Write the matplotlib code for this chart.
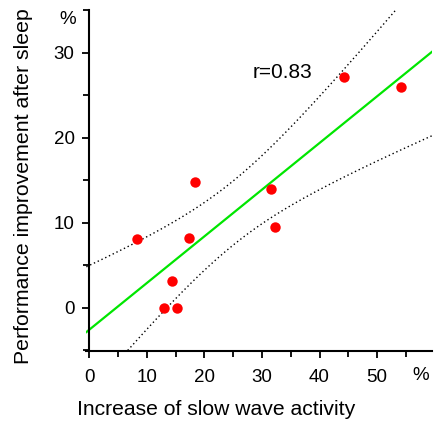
import numpy as np
import matplotlib
matplotlib.use("Agg")
import matplotlib.pyplot as plt

plt.rcParams['font.family'] = ['Liberation Sans', 'DejaVu Sans']

# slow wave activity increase (%) vs performance improvement (%)
swa_increase = [8.3, 12.9, 15.3, 14.3, 17.4, 18.4, 31.5, 32.3, 44.3, 54.1]
perf_improve = [8.1, 0.0, 0.0, 3.2, 8.2, 14.8, 14.0, 9.5, 27.2, 26.0]
x_ticks = [0, 10, 20, 30, 40, 50]
y_ticks = [0, 10, 20, 30]

x = np.array(swa_increase)
y = np.array(perf_improve)
n = len(x)
slope, icpt = np.polyfit(x, y, 1)
resid = y - (icpt + slope * x)
s = np.sqrt(np.sum(resid ** 2) / (n - 2))
sxx = np.sum((x - x.mean()) ** 2)
t = 2.306  # t(0.975, 8)

xs = np.linspace(-0.5, 60, 300)
fit = icpt + slope * xs
band = t * s * np.sqrt(1.0 / n + (xs - x.mean()) ** 2 / sxx)

fig = plt.figure(figsize=(4.34, 4.28), dpi=100)
ax = fig.add_axes([0.199, 0.180, 0.796, 0.797])

ax.plot(xs, fit, color='#00e600', lw=1.6, zorder=2)
ax.plot(xs, fit + band, color='black', lw=1.0, ls=(0, (1, 2)), zorder=1)
ax.plot(xs, fit - band, color='black', lw=1.0, ls=(0, (1, 2)), zorder=1)
ax.plot(x, y, 'o', color='#ff0000', ms=7.5, mec='none', zorder=3)

ax.set_xlim(-0.5, 59.5)
ax.set_ylim(-5.06, 35.06)
ax.spines['top'].set_visible(False)
ax.spines['right'].set_visible(False)
ax.spines['left'].set_position(('data', 0))
ax.spines['left'].set_linewidth(1.5)
ax.spines['bottom'].set_linewidth(1.5)

ax.set_xticks(x_ticks)
ax.set_xticks(np.arange(5, 60, 10), minor=True)
ax.set_yticks(y_ticks)
ax.set_yticks([-5, 5, 15, 25, 35], minor=True)
ax.tick_params(which='both', direction='out', width=1.3, labelsize=13.5)
ax.tick_params(which='major', length=5)
ax.tick_params(which='minor', length=4)
ax.tick_params(axis='x', pad=8)
ax.tick_params(axis='y', pad=5.5)

ax.text(33.6, 27.7, 'r=0.83', fontsize=15, ha='center', va='center')
ax.text(-3.8, 33.9, '%', fontsize=13.5, ha='center', va='center')
ax.text(57.6, -7.9, '%', fontsize=13.5, ha='center', va='center')

ax.set_xlabel('Increase of slow wave activity', fontsize=15.2)
ax.set_ylabel('Performance improvement after sleep', fontsize=15.3)
ax.xaxis.set_label_coords(0.377, -0.144)
ax.yaxis.set_label_coords(-0.155, 0.482)

fig.savefig('out.png', dpi=100)
